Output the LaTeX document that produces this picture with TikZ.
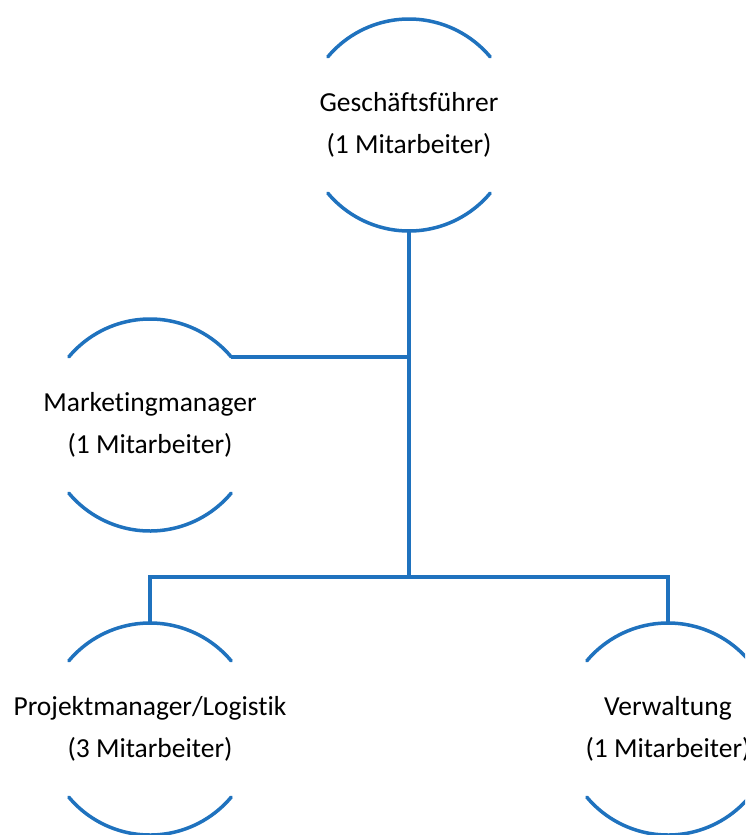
\documentclass[tikz,border=0pt]{standalone}
\usepackage{fontspec}
\setmainfont{Carlito}[Ligatures=NoCommon]
\definecolor{c1f72be}{RGB}{31,114,190}

\begin{document}
\begin{tikzpicture}[y=1pt, x=1pt, yscale=-1, inner sep=0pt, outer sep=0pt,
  unit/.style={circle, minimum size=212pt},
  caption/.style={align=center, font=\fontsize{27.5}{42}\selectfont, text=black},
  ring/.style={draw=c1f72be, line width=3.5pt, line cap=round},
  link/.style={draw=c1f72be, line width=4pt}]
  \useasboundingbox (0,0) rectangle (745,835);
  \clip (0,0) rectangle (745,835);
  % units
  \node[unit] (gf) at (409,125) {};
  \node[unit] (mm) at (150,425) {};
  \node[unit] (pl) at (150,729) {};
  \node[unit] (vw) at (668,729) {};
  \node[caption] (gf-text) at (gf) {Geschäftsführer\\(1 Mitarbeiter)};
  \node[caption] (mm-text) at (mm) {Marketingmanager\\(1 Mitarbeiter)};
  \node[caption] (pl-text) at (pl) {Projektmanager/Logistik\\(3 Mitarbeiter)};
  \node[caption] (vw-text) at (vw) {Verwaltung\\(1 Mitarbeiter)};
  % arcs round the units
  \path[ring] (gf.40) arc[start angle=-40, end angle=-140, radius=106];
  \path[ring] (gf.220) arc[start angle=140, end angle=40, radius=106];
  \path[ring] (mm.40) arc[start angle=-40, end angle=-140, radius=106];
  \path[ring] (mm.220) arc[start angle=140, end angle=40, radius=106];
  \path[ring] (pl.40) arc[start angle=-40, end angle=-140, radius=106];
  \path[ring] (pl.220) arc[start angle=140, end angle=40, radius=106];
  \path[ring] (vw.40) arc[start angle=-40, end angle=-140, radius=106];
  \path[ring] (vw.220) arc[start angle=140, end angle=40, radius=106];
  % connectors
  \coordinate (split) at (409,577);
  \path[link] (gf.south) -- (split);
  \path[link] (mm.40) -- (mm.40 -| gf.south);
  \path[link] (pl.north) |- (split) -| (vw.north);
\end{tikzpicture}
\end{document}
